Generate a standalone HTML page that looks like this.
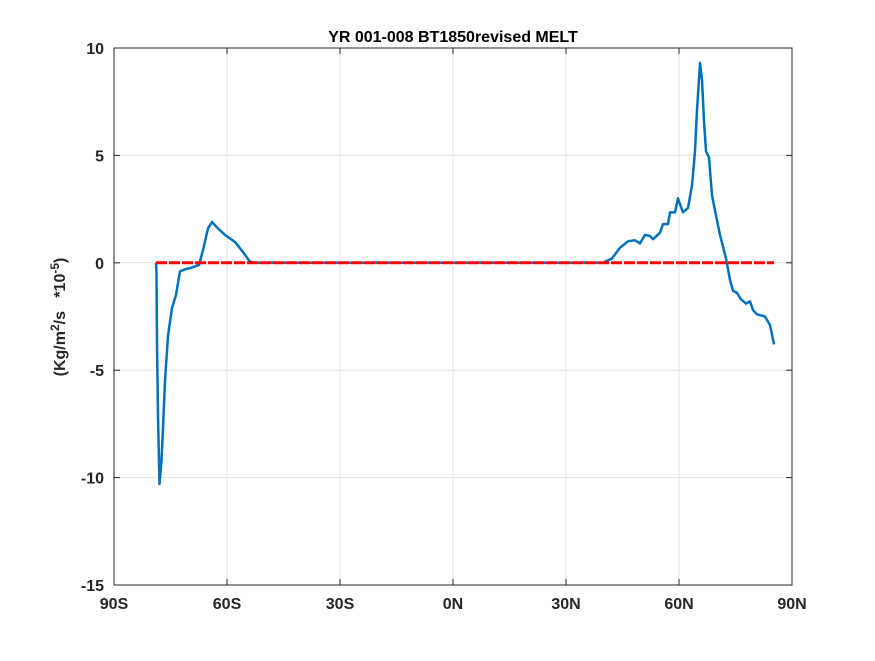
<!DOCTYPE html>
<html><head><meta charset="utf-8"><style>body{margin:0;background:#fff}svg{font-family:"Liberation Sans",sans-serif}</style></head>
<body>
<svg id="c" width="875" height="656"></svg>
<script>
const latS=[-78.85,-78.72,-78.58,-78.32,-77.92,-77.39,-76.99,-76.46,-75.66,-74.6,-73.54,-72.48,-71.15,-69.82,-67.43,-66.37,-65.04,-63.98,-62.39,-60.53,-57.88,-55.75,-53.89,-52.57,39.82,42.2,44.33,46.45,48.31,49.64,50.97,52.3,53.1,54.96,55.75,57.08,57.61,58.94,59.73,61.06,62.39,63.45,64.25,64.78,65.58,66.11,66.64,67.17,67.96,68.76,69.82,70.88,72.48,73.54,74.33,75.4,76.46,77.79,78.85,79.65,80.71,82.83,84.16,85.22];
const melt=[0,-0.5,-3.8,-7.1,-10.3,-9.2,-7.7,-5.5,-3.4,-2.1,-1.5,-0.4,-0.3,-0.25,-0.1,0.6,1.6,1.9,1.6,1.3,0.97,0.5,0.05,0,0,0.2,0.7,1.0,1.05,0.9,1.3,1.25,1.1,1.4,1.8,1.8,2.35,2.35,3.0,2.35,2.55,3.6,5.2,7.1,9.3,8.5,6.6,5.2,4.9,3.15,2.2,1.3,0.2,-0.8,-1.3,-1.4,-1.7,-1.9,-1.8,-2.2,-2.4,-2.5,-2.9,-3.8];
const refLat=[-78.85,85.22];
const refVal=[0,0];
const xTicks=[-90,-60,-30,0,30,60,90];
const xLabels=["90S","60S","30S","0N","30N","60N","90N"];
const yTicks=[10,5,0,-5,-10,-15];
const X0=114,X1=792,Y0=48,Y1=585;
const sx=v=>X0+(v+90)/180*(X1-X0);
const sy=v=>Y0+(10-v)/25*(Y1-Y0);
const svg=document.getElementById('c');
const NS='http://www.w3.org/2000/svg';
function mk(t,a,p){const e=document.createElementNS(NS,t);for(const k in a)e.setAttribute(k,a[k]);(p||svg).appendChild(e);return e;}
mk('rect',{x:X0,y:Y0,width:X1-X0,height:Y1-Y0,fill:'#fff'});
xTicks.forEach((t,i)=>{const x=sx(t);
 const g=mk('line',{x1:x,x2:x,y1:Y0,y2:Y1,stroke:'#e0e0e0'});
 
 mk('line',{x1:x,x2:x,y1:Y1,y2:Y1-6,stroke:'#262626'});mk('line',{x1:x,x2:x,y1:Y0,y2:Y0+6,stroke:'#262626'});
 const tx=mk('text',{x:x,y:Y1+24,'text-anchor':'middle','font-size':16,'font-weight':'bold',fill:'#262626'});tx.textContent=xLabels[i];
 });
yTicks.forEach(t=>{const y=sy(t);
 const g=mk('line',{x1:X0,x2:X1,y1:y,y2:y,stroke:'#e0e0e0'});
 
 mk('line',{x1:X0,x2:X0+6,y1:y,y2:y,stroke:'#262626'});mk('line',{x1:X1,x2:X1-6,y1:y,y2:y,stroke:'#262626'});
 const tx=mk('text',{x:X0-10,y:y+6,'text-anchor':'end','font-size':16,'font-weight':'bold',fill:'#262626'});tx.textContent=t;
 });
const ax=mk('rect',{x:X0,y:Y0,width:X1-X0,height:Y1-Y0,fill:'none',stroke:'#262626'});

const l=mk('polyline',{points:latS.map((v,i)=>sx(v)+','+sy(melt[i])).join(' '),fill:'none',stroke:'#0072bd','stroke-width':2.5,'stroke-linejoin':'round'});

const r=mk('polyline',{points:refLat.map((v,i)=>sx(v)+','+sy(refVal[i])).join(' '),fill:'none',stroke:'#ff0000','stroke-width':3,'stroke-dasharray':'11,2'});

const ti=mk('text',{x:453,y:42,'text-anchor':'middle','font-size':16,'font-weight':'bold',fill:'#000'});ti.textContent='YR 001-008 BT1850revised MELT';

const yl=mk('text',{x:0,y:0,transform:'translate(65,317) rotate(-90)','text-anchor':'middle','font-size':16,'font-weight':'bold',fill:'#262626','xml:space':'preserve'});
yl.setAttribute('style','white-space:pre');
yl.innerHTML='(Kg/m<tspan dy="-6" font-size="12">2</tspan><tspan dy="6">/s   *10</tspan><tspan dy="-6" font-size="12">-5</tspan><tspan dy="6">)</tspan>';

</script>
</body></html>
